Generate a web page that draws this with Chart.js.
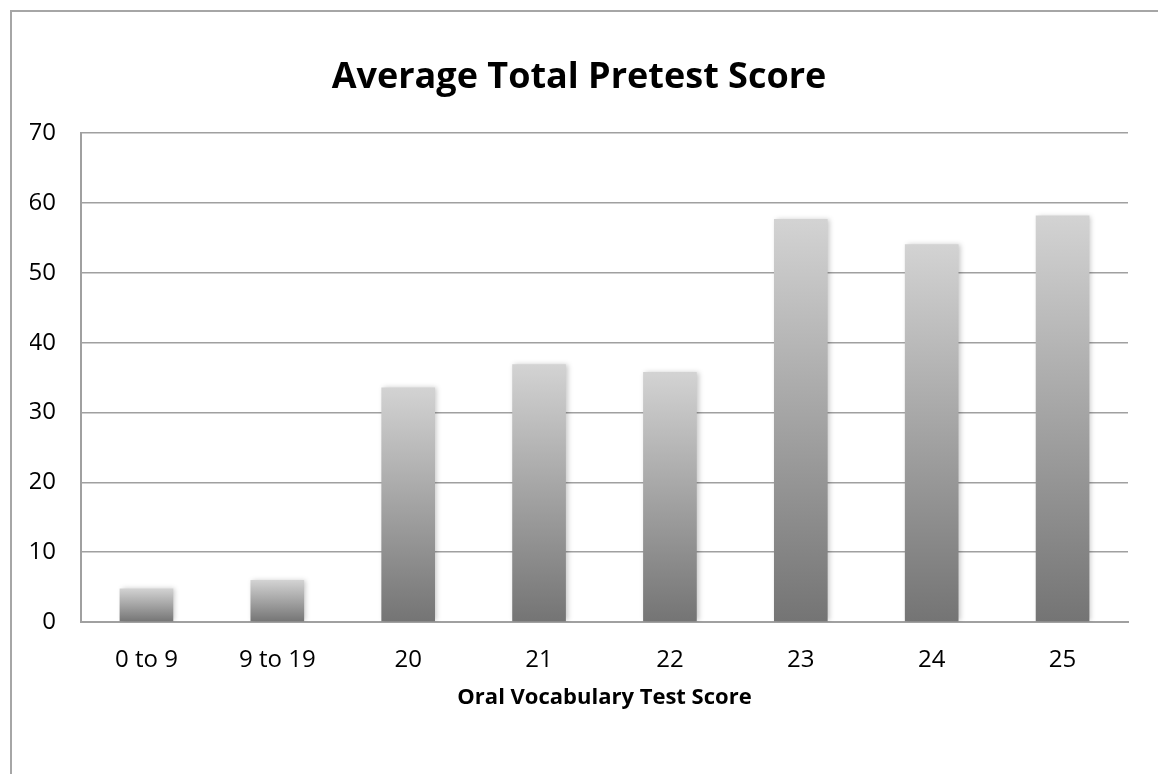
<!DOCTYPE html>
<html lang="en">
<head>
    <meta charset="UTF-8">
    <title>Average Total Pretest Score</title>
    <script src="https://cdn.jsdelivr.net/npm/chart.js"></script>
    <style>
        html, body { margin: 0; padding: 0; background: #fff; overflow: hidden; }
        #wrap { position: relative; width: 1158px; height: 774px; }
        #frame { position: absolute; left: 10px; top: 10px; width: 1200px; height: 800px; border: 2px solid #a6a6a6; }
        canvas { position: absolute; left: 0; top: 0; }
    </style>
</head>
<body>
<div id="wrap">
    <div id="frame"></div>
    <canvas id="scoreChart" width="1158" height="774"></canvas>
</div>
<script>
    const categories = ['0 to 9', '9 to 19', '20', '21', '22', '23', '24', '25'];
    const pretestScores = [4.8, 6.0, 33.6, 36.9, 35.8, 57.7, 54.1, 58.2];
    const yTicks = [0, 10, 20, 30, 40, 50, 60, 70];

    const FONT = "'Open Sans', sans-serif";

    function barGradient(context) {
        const chart = context.chart;
        if (!chart.chartArea || context.dataIndex === undefined) return '#a0a0a0';
        const y = chart.scales.y;
        const top = y.getPixelForValue(context.raw);
        const bottom = y.getPixelForValue(0);
        if (!isFinite(top) || !isFinite(bottom) || top === bottom) return '#a0a0a0';
        const g = chart.ctx.createLinearGradient(0, top, 0, bottom);
        g.addColorStop(0, '#d3d3d3');
        g.addColorStop(1, '#747474');
        return g;
    }

    const barShadow = {
        id: 'barShadow',
        beforeDatasetsDraw(chart) {
            const ctx = chart.ctx;
            ctx.save();
            ctx.shadowColor = 'rgba(0,0,0,0.22)';
            ctx.shadowBlur = 5;
            ctx.shadowOffsetX = 2;
            ctx.shadowOffsetY = 0;
        },
        afterDatasetsDraw(chart) {
            chart.ctx.restore();
        }
    };

    const ctx = document.getElementById('scoreChart').getContext('2d');
    new Chart(ctx, {
        type: 'bar',
        data: {
            labels: categories,
            datasets: [{
                label: 'Average Total Pretest Score',
                data: pretestScores,
                backgroundColor: barGradient,
                borderWidth: 0,
                categoryPercentage: 1.0,
                barPercentage: 0.41
            }]
        },
        options: {
            responsive: false,
            animation: false,
            layout: { padding: { left: 30, right: 30, top: 20, bottom: 0 } },
            plugins: {
                legend: { display: false },
                tooltip: { enabled: false },
                title: {
                    display: true,
                    text: 'Average Total Pretest Score',
                    color: '#000',
                    font: { family: FONT, size: 36, weight: 'bold' },
                    padding: { top: 36, bottom: 34 }
                }
            },
            scales: {
                x: {
                    grid: { display: false, drawTicks: false },
                    border: { display: true, color: '#a0a0a0', width: 2 },
                    ticks: { color: '#000', padding: 24, font: { family: FONT, size: 24 } },
                    title: {
                        display: true,
                        text: 'Oral Vocabulary Test Score',
                        color: '#000',
                        font: { family: FONT, size: 22, weight: 'bold' },
                        padding: { top: 0, bottom: 63 }
                    },
                    afterFit(scale) { scale.height = 152; }
                },
                y: {
                    min: 0,
                    max: 70,
                    afterBuildTicks(scale) { scale.ticks = yTicks.map(v => ({ value: v })); },
                    grid: { color: '#a0a0a0', lineWidth: 1.5, drawTicks: false },
                    border: { display: true, color: '#a0a0a0', width: 2 },
                    ticks: { color: '#000', padding: 25, font: { family: FONT, size: 24 } },
                    afterFit(scale) { scale.width = 51; }
                }
            }
        },
        plugins: [barShadow]
    });
</script>
</body>
</html>
